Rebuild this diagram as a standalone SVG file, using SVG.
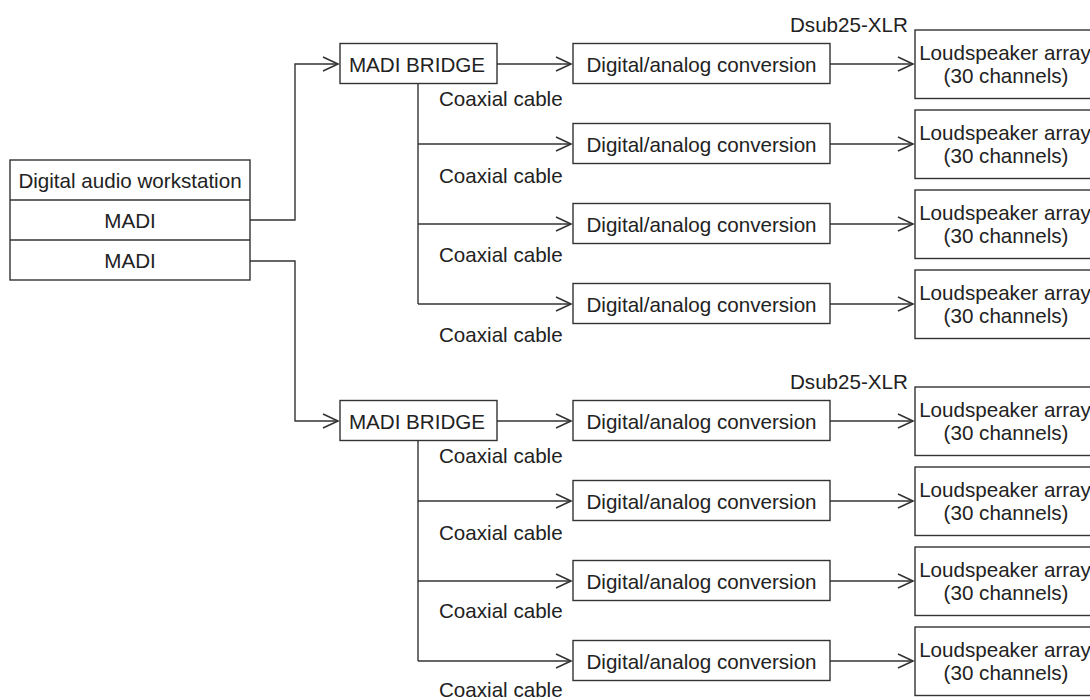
<svg xmlns="http://www.w3.org/2000/svg" width="1090" height="700" viewBox="0 0 1090 700">
<style>
.box{fill:#fff;stroke:#333;stroke-width:1.4}
.ln{fill:none;stroke:#333;stroke-width:1.4}
text{font-family:"Liberation Sans",Arial,sans-serif;font-size:20.6px;fill:#222}
.c{text-anchor:middle}
</style>
<defs>
<marker id="arr" markerUnits="userSpaceOnUse" markerWidth="18" markerHeight="18" refX="15" refY="7" orient="auto" overflow="visible">
<path d="M0,0 L15,7 L0,14" fill="none" stroke="#333" stroke-width="1.6"/>
</marker>
</defs>
<rect width="1090" height="700" fill="#fff"/>

<g id="connectors">
<path class="ln" d="M250,220 H295 V64 H338" marker-end="url(#arr)"/>
<path class="ln" d="M250,261 H295 V421 H338" marker-end="url(#arr)"/>
<!-- group 1 -->
<path class="ln" d="M497,64 H571" marker-end="url(#arr)"/>
<path class="ln" d="M418,84 V304"/>
<path class="ln" d="M418,144 H571" marker-end="url(#arr)"/>
<path class="ln" d="M418,224 H571" marker-end="url(#arr)"/>
<path class="ln" d="M418,304 H571" marker-end="url(#arr)"/>
<path class="ln" d="M830,64 H913" marker-end="url(#arr)"/>
<path class="ln" d="M830,144 H913" marker-end="url(#arr)"/>
<path class="ln" d="M830,224 H913" marker-end="url(#arr)"/>
<path class="ln" d="M830,304 H913" marker-end="url(#arr)"/>
<!-- group 2 -->
<path class="ln" d="M497,421 H571" marker-end="url(#arr)"/>
<path class="ln" d="M418,441 V661"/>
<path class="ln" d="M418,501 H571" marker-end="url(#arr)"/>
<path class="ln" d="M418,581 H571" marker-end="url(#arr)"/>
<path class="ln" d="M418,661 H571" marker-end="url(#arr)"/>
<path class="ln" d="M830,421 H913" marker-end="url(#arr)"/>
<path class="ln" d="M830,501 H913" marker-end="url(#arr)"/>
<path class="ln" d="M830,581 H913" marker-end="url(#arr)"/>
<path class="ln" d="M830,661 H913" marker-end="url(#arr)"/>
</g>

<g id="labels">
<text x="439" y="106">Coaxial cable</text>
<text x="439" y="183">Coaxial cable</text>
<text x="439" y="262">Coaxial cable</text>
<text x="439" y="342">Coaxial cable</text>
<text x="439" y="463">Coaxial cable</text>
<text x="439" y="540">Coaxial cable</text>
<text x="439" y="618">Coaxial cable</text>
<text x="439" y="697">Coaxial cable</text>
<text x="790" y="31.5">Dsub25-XLR</text>
<text x="790" y="388.5">Dsub25-XLR</text>
</g>

<g id="daw">
<rect class="box" x="10" y="160" width="240" height="120"/>
<line class="ln" x1="10" y1="200" x2="250" y2="200"/>
<line class="ln" x1="10" y1="240" x2="250" y2="240"/>
<text class="c" x="130" y="187.5">Digital audio workstation</text>
<text class="c" x="130" y="227.5">MADI</text>
<text class="c" x="130" y="267.5">MADI</text>
</g>

<g id="bridge1"><rect class="box" x="340" y="43.5" width="157" height="40"/><text class="c" x="417" y="71.5">MADI BRIDGE</text></g>
<g id="bridge2"><rect class="box" x="340" y="400.5" width="157" height="40"/><text class="c" x="417" y="428.5">MADI BRIDGE</text></g>

<g id="da1"><rect class="box" x="573" y="43.5" width="257" height="40"/><text class="c" x="701.5" y="71.5">Digital/analog conversion</text></g>
<g id="da2"><rect class="box" x="573" y="123.5" width="257" height="40"/><text class="c" x="701.5" y="151.5">Digital/analog conversion</text></g>
<g id="da3"><rect class="box" x="573" y="203.5" width="257" height="40"/><text class="c" x="701.5" y="231.5">Digital/analog conversion</text></g>
<g id="da4"><rect class="box" x="573" y="283.5" width="257" height="40"/><text class="c" x="701.5" y="311.5">Digital/analog conversion</text></g>
<g id="da5"><rect class="box" x="573" y="400.5" width="257" height="40"/><text class="c" x="701.5" y="428.5">Digital/analog conversion</text></g>
<g id="da6"><rect class="box" x="573" y="480.5" width="257" height="40"/><text class="c" x="701.5" y="508.5">Digital/analog conversion</text></g>
<g id="da7"><rect class="box" x="573" y="560.5" width="257" height="40"/><text class="c" x="701.5" y="588.5">Digital/analog conversion</text></g>
<g id="da8"><rect class="box" x="573" y="640.5" width="257" height="40"/><text class="c" x="701.5" y="668.5">Digital/analog conversion</text></g>

<g id="ls1"><rect class="box" x="915" y="30" width="190" height="68.5"/><text class="c" x="1005" y="60">Loudspeaker array</text><text class="c" x="1006" y="83">(30 channels)</text></g>
<g id="ls2"><rect class="box" x="915" y="110" width="190" height="68.5"/><text class="c" x="1005" y="140">Loudspeaker array</text><text class="c" x="1006" y="163">(30 channels)</text></g>
<g id="ls3"><rect class="box" x="915" y="190" width="190" height="68.5"/><text class="c" x="1005" y="220">Loudspeaker array</text><text class="c" x="1006" y="243">(30 channels)</text></g>
<g id="ls4"><rect class="box" x="915" y="270" width="190" height="68.5"/><text class="c" x="1005" y="300">Loudspeaker array</text><text class="c" x="1006" y="323">(30 channels)</text></g>
<g id="ls5"><rect class="box" x="915" y="387" width="190" height="68.5"/><text class="c" x="1005" y="417">Loudspeaker array</text><text class="c" x="1006" y="440">(30 channels)</text></g>
<g id="ls6"><rect class="box" x="915" y="467" width="190" height="68.5"/><text class="c" x="1005" y="497">Loudspeaker array</text><text class="c" x="1006" y="520">(30 channels)</text></g>
<g id="ls7"><rect class="box" x="915" y="547" width="190" height="68.5"/><text class="c" x="1005" y="577">Loudspeaker array</text><text class="c" x="1006" y="600">(30 channels)</text></g>
<g id="ls8"><rect class="box" x="915" y="627" width="190" height="68.5"/><text class="c" x="1005" y="657">Loudspeaker array</text><text class="c" x="1006" y="680">(30 channels)</text></g>
</svg>
